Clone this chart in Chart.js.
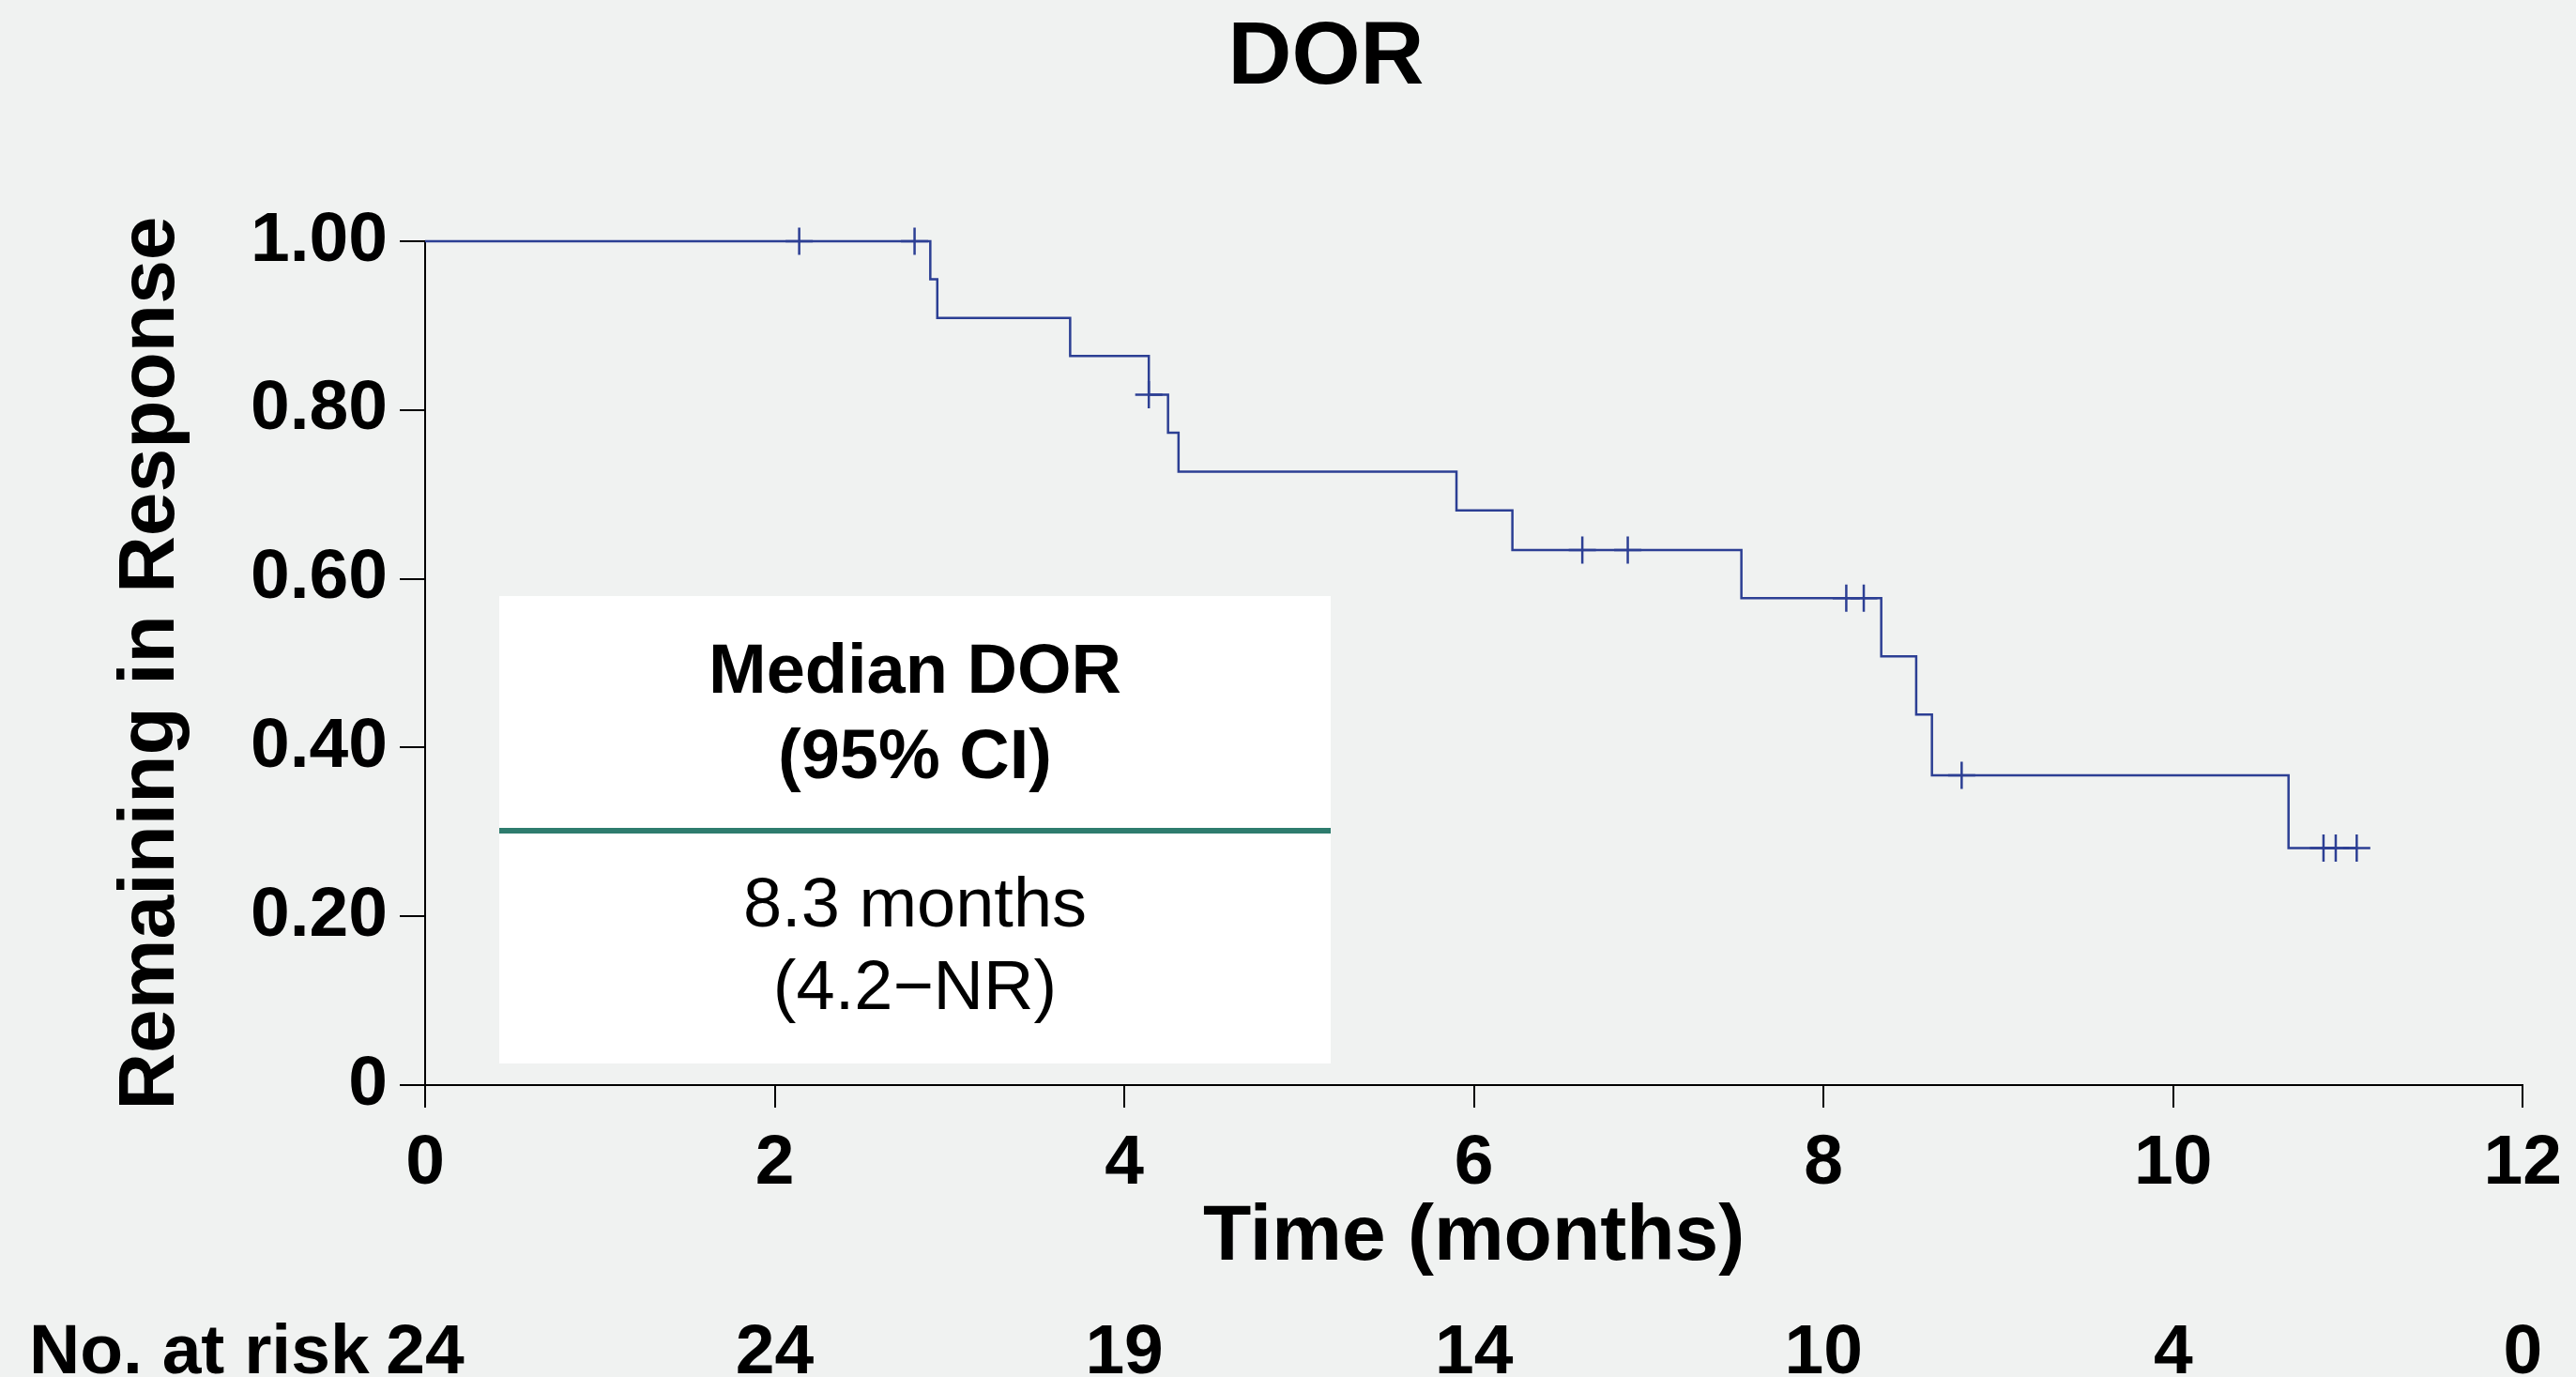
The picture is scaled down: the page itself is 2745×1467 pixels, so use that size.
<!DOCTYPE html>
<html>
<head>
<meta charset="utf-8">
<title>DOR</title>
<script src="https://cdn.jsdelivr.net/npm/chart.js@4.4.1/dist/chart.umd.min.js"></script>
<style>
  html, body { margin: 0; padding: 0; background: #F0F2F1; }
  #wrap { width: 2745px; height: 1467px; }
  canvas { display: block; }
</style>
</head>
<body>
<div id="wrap"><canvas id="km" width="2745" height="1467"></canvas></div>
<script>
// Kaplan–Meier estimate: time of each event (months) and the survival level after it
const eventTimes = [0, 2.89, 2.93, 3.69, 4.14, 4.25, 4.31, 5.90, 6.22, 7.53, 8.33, 8.53, 8.62, 10.66, 11.05];
const survival   = [1.00, 0.955, 0.909, 0.864, 0.818, 0.773, 0.727, 0.681, 0.634, 0.577, 0.508, 0.439, 0.367, 0.281, 0.281];

// Censored observations
const censorTimes    = [2.14, 2.80, 4.14, 6.62, 6.88, 8.13, 8.23, 8.79, 10.86, 10.93, 11.05];
const censorSurvival = [1.00, 1.00, 0.818, 0.634, 0.634, 0.577, 0.577, 0.367, 0.281, 0.281, 0.281];

// Number at risk table
const riskTimes = [0, 2, 4, 6, 8, 10, 12];
const atRisk    = [24, 24, 19, 14, 10, 4, 0];

// Axis ticks
const xTicks = [0, 2, 4, 6, 8, 10, 12];
const yTicks = [0, 0.2, 0.4, 0.6, 0.8, 1.0];

// Summary panel text
const summaryHeading = ['Median DOR', '(95% CI)'];
const summaryValue   = ['8.3 months', '(4.2\u2212NR)'];

const FONT = '"Liberation Sans", Arial, Helvetica, sans-serif';
const BLUE = '#2C3F94';
const TEAL = '#2E7C6E';
const INK  = '#000000';

// White summary panel with the median and its confidence interval
const summaryPanel = {
  id: 'summaryPanel',
  beforeDatasetsDraw(chart) {
    const { ctx, chartArea } = chart;
    const left = chartArea.left + 79;
    const top = chartArea.top + 378;
    const w = 886, h = 498;
    const cx = left + w / 2;
    ctx.save();
    ctx.fillStyle = '#FFFFFF';
    ctx.fillRect(left, top, w, h);
    ctx.fillStyle = TEAL;
    ctx.fillRect(left, top + 247, w, 6);
    ctx.fillStyle = INK;
    ctx.textAlign = 'center';
    ctx.textBaseline = 'middle';
    ctx.font = 'bold 74px ' + FONT;
    ctx.fillText(summaryHeading[0], cx, top + 83);
    ctx.fillText(summaryHeading[1], cx, top + 174);
    ctx.font = '74px ' + FONT;
    ctx.fillText(summaryValue[0], cx, top + 332);
    ctx.fillText(summaryValue[1], cx, top + 420);
    ctx.restore();
  }
};

// "No. at risk" row beneath the time axis
const riskTable = {
  id: 'riskTable',
  afterDraw(chart) {
    const { ctx } = chart;
    const xs = chart.scales.x;
    const baseline = chart.height - 4;
    ctx.save();
    ctx.fillStyle = INK;
    ctx.font = 'bold 75px ' + FONT;
    ctx.textBaseline = 'alphabetic';
    ctx.textAlign = 'left';
    ctx.fillText('No. at risk', 31, baseline);
    ctx.textAlign = 'center';
    riskTimes.forEach((t, i) => {
      ctx.fillText(String(atRisk[i]), xs.getPixelForValue(t), baseline);
    });
    ctx.restore();
  }
};

const curve = eventTimes.map((t, i) => ({ x: t, y: survival[i] }));
const censored = censorTimes.map((t, i) => ({ x: t, y: censorSurvival[i] }));

new Chart(document.getElementById('km'), {
  type: 'scatter',
  data: {
    datasets: [
      {
        label: 'DOR',
        data: curve,
        showLine: true,
        stepped: 'before',
        borderColor: BLUE,
        borderWidth: 2.5,
        pointRadius: 0,
        fill: false,
        clip: false
      },
      {
        label: 'Censored',
        data: censored,
        showLine: false,
        pointStyle: 'cross',
        pointRadius: 14.5,
        pointBorderWidth: 2.5,
        pointBorderColor: BLUE,
        pointBackgroundColor: BLUE,
        clip: false
      }
    ]
  },
  options: {
    responsive: false,
    animation: false,
    events: [],
    layout: { padding: { left: 136, right: 55, top: 0, bottom: 90 } },
    plugins: {
      legend: { display: false },
      tooltip: { enabled: false },
      title: {
        display: true,
        text: 'DOR',
        color: INK,
        font: { family: FONT, size: 94, weight: 'bold' },
        padding: { top: 6.5, bottom: 137.7 }
      }
    },
    scales: {
      x: {
        type: 'linear',
        min: 0,
        max: 12,
        afterBuildTicks: s => { s.ticks = xTicks.map(v => ({ value: v })); },
        afterFit: s => { s.height = 221; },
        ticks: {
          color: INK,
          padding: 15,
          maxRotation: 0,
          font: { family: FONT, size: 75, weight: 'bold' },
          callback: v => String(v)
        },
        grid: {
          display: true,
          drawOnChartArea: false,
          drawTicks: true,
          tickLength: 24,
          color: INK,
          lineWidth: 2
        },
        border: { display: true, color: INK, width: 2 },
        title: {
          display: true,
          text: 'Time (months)',
          color: INK,
          font: { family: FONT, size: 84, weight: 'bold' },
          padding: { top: 0, bottom: 8 }
        }
      },
      y: {
        type: 'linear',
        min: 0,
        max: 1,
        afterBuildTicks: s => { s.ticks = yTicks.map(v => ({ value: v })); },
        afterFit: s => { s.width = 317; },
        ticks: {
          color: INK,
          padding: 13,
          font: { family: FONT, size: 75, weight: 'bold' },
          callback: v => (v === 0 ? '0' : Number(v).toFixed(2))
        },
        grid: {
          display: true,
          drawOnChartArea: false,
          drawTicks: true,
          tickLength: 27,
          color: INK,
          lineWidth: 2
        },
        border: { display: true, color: INK, width: 2 },
        title: {
          display: true,
          text: 'Remaining in Response',
          color: INK,
          font: { family: FONT, size: 84, weight: 'bold' },
          padding: { top: -25, bottom: 0 }
        }
      }
    }
  },
  plugins: [summaryPanel, riskTable]
});
</script>
</body>
</html>
